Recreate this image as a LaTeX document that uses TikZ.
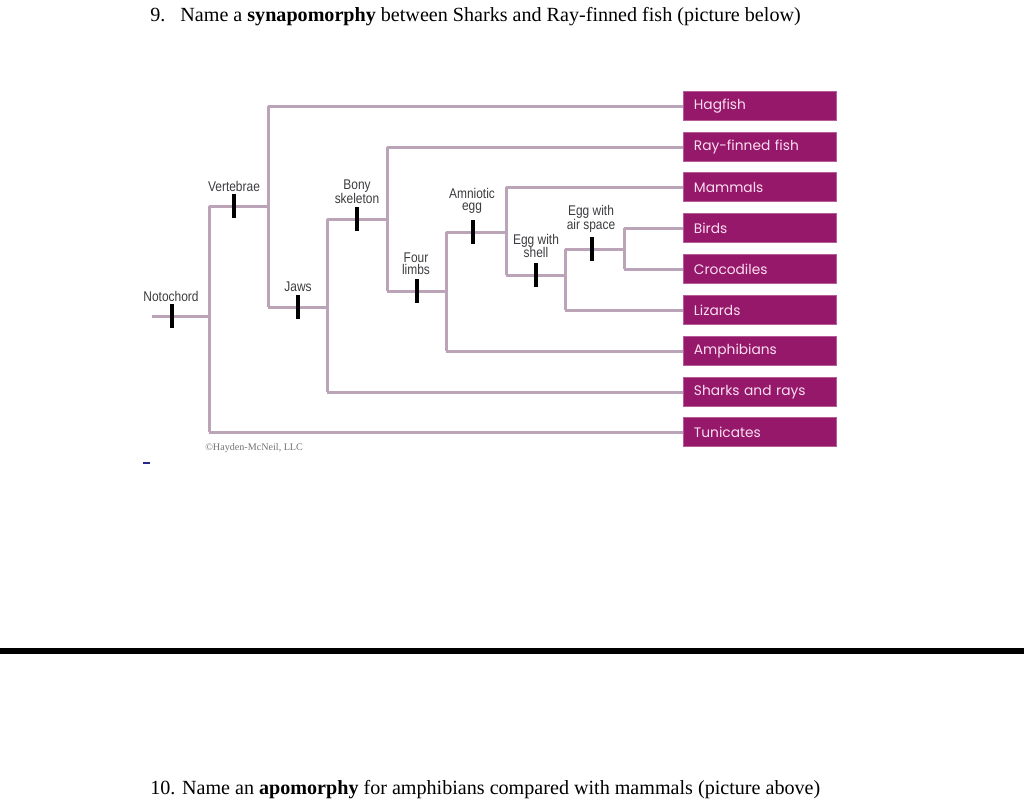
\documentclass[tikz,border=0pt]{standalone}
\usepackage{fontspec}
\setmainfont{Liberation Serif}
\newfontfamily\lblfont[FakeStretch=0.85]{Liberation Sans}
\newfontfamily\boxfont{Poppins}
\definecolor{branch}{RGB}{188,164,184}
\definecolor{taxon}{RGB}{150,24,106}
\definecolor{taxtext}{RGB}{250,222,240}
\definecolor{lbl}{RGB}{60,60,64}
\begin{document}
\begin{tikzpicture}[x=0.25mm,y=-0.25mm,
  br/.style={draw=branch,line width=0.75mm},
  tick/.style={draw=black,line width=0.85mm},
  taxbox/.style={fill=taxon,draw=taxon!70!white,line width=0.2mm,minimum width=38.25mm,minimum height=7.4mm,inner sep=0pt,text=taxtext,font=\boxfont\fontsize{9.8pt}{11pt}\selectfont,align=left,text width=36mm},
  chlab/.style={font=\lblfont\fontsize{10pt}{9pt}\selectfont,text=lbl,align=center,inner sep=0pt},
  qtext/.style={font=\fontsize{14.3pt}{16pt}\selectfont,anchor=base west,inner sep=0pt}
]
\useasboundingbox (0,0) rectangle (1024,806);
% questions
\node[qtext] (q9) at (150,21) {9.\hspace{0.75em}Name a \textbf{synapomorphy} between Sharks and Ray-finned fish (picture below)};
\node[qtext] (q10) at (150,794) {10. Name an \textbf{apomorphy} for amphibians compared with mammals (picture above)};
\draw[line width=1.35mm] (0,651) -- (1024,651);
\draw[draw={rgb,255:red,40;green,40;blue,140},line width=0.5mm] (143,463) -- (150,463);
% taxa
\foreach \n/\t/\y in {hag/Hagfish/106,ray/Ray-finned fish/147,mam/Mammals/187,bir/Birds/228,cro/Crocodiles/269,liz/Lizards/310,amp/Amphibians/351,sha/Sharks and rays/392,tun/Tunicates/432}
  \node[taxbox,anchor=west] (\n) at (683,\y) {\hspace*{1.5mm}\t};
% internal coordinates
\coordinate (r0) at (152,316);
\coordinate (a) at (209,316);
\coordinate (aT) at (209,206);
\coordinate (aB) at (209,432);
\coordinate (b) at (268,206);
\coordinate (bT) at (268,106);
\coordinate (bB) at (268,307);
\coordinate (c) at (327,307);
\coordinate (cT) at (327,219);
\coordinate (cB) at (327,392);
\coordinate (d) at (387,219);
\coordinate (dT) at (387,147);
\coordinate (dB) at (387,291);
\coordinate (e) at (446,291);
\coordinate (eT) at (446,232);
\coordinate (eB) at (446,351);
\coordinate (f) at (506,232);
\coordinate (fT) at (506,187);
\coordinate (fB) at (506,275);
\coordinate (g) at (565,275);
\coordinate (gT) at (565,249);
\coordinate (gB) at (565,310);
\coordinate (h) at (624,249);
\coordinate (hT) at (624,228);
\coordinate (hB) at (624,269);
% branches
\draw[br] (r0) -- (a);
\draw[br] (aT) -- (aB);
\draw[br] (aT) -- (b);
\draw[br] (bT) -- (bB);
\draw[br] (bB) -- (c);
\draw[br] (cT) -- (cB);
\draw[br] (cT) -- (d);
\draw[br] (dT) -- (dB);
\draw[br] (dB) -- (e);
\draw[br] (eT) -- (eB);
\draw[br] (eT) -- (f);
\draw[br] (fT) -- (fB);
\draw[br] (fB) -- (g);
\draw[br] (gT) -- (gB);
\draw[br] (gT) -- (h);
\draw[br] (hT) -- (hB);
\draw[br] (bT) -- (hag.west);
\draw[br] (dT) -- (ray.west);
\draw[br] (fT) -- (mam.west);
\draw[br] (hT) -- (bir.west);
\draw[br] (hB) -- (cro.west);
\draw[br] (gB) -- (liz.west);
\draw[br] (eB) -- (amp.west);
\draw[br] (cB) -- (sha.west);
\draw[br] (aB) -- (tun.west);
% character ticks
\foreach \nm/\x/\y in {t1/172/316,t2/234/206,t3/298/307,t4/357/219,t5/417/291,t6/473/232,t7/536/275,t8/592/249}
  \draw[tick] (\x,\y-12) -- (\x,\y+12);
% character labels
\node[chlab] (l1) at (171,296) {Notochord};
\node[chlab] (l2) at (234,186) {Vertebrae};
\node[chlab] (l3) at (298,287) {Jaws};
\node[chlab] (l4) at (357,192) {Bony\\[-0.6pt]skeleton};
\node[chlab] (l5) at (416,264) {Four\\[-0.6pt]limbs};
\node[chlab] (l6) at (472,201) {Amniotic\\[-0.6pt]egg};
\node[chlab] (l7) at (536,246) {Egg with\\[-0.6pt]shell};
\node[chlab] (l8) at (591,219) {Egg with\\[-0.6pt]air space};
\node[font=\fontsize{7.2pt}{8pt}\selectfont,text=black!55,inner sep=0pt,anchor=west] (cr) at (205,448) {\textcopyright Hayden-McNeil, LLC};
\end{tikzpicture}
\end{document}
